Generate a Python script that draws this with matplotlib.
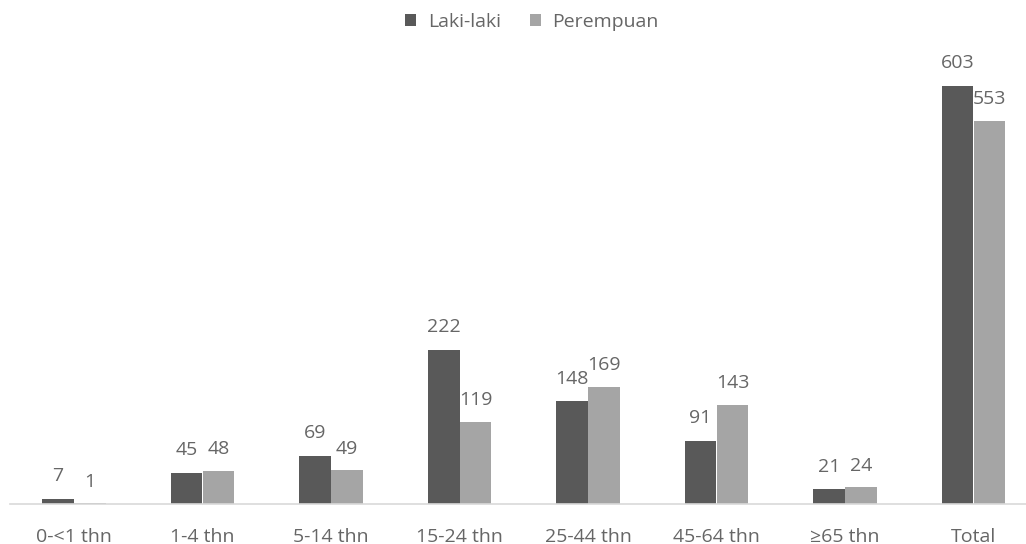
import matplotlib
matplotlib.use("Agg")
import matplotlib.pyplot as plt
import numpy as np

categories = ["0-<1 thn", "1-4 thn", "5-14 thn", "15-24 thn", "25-44 thn", "45-64 thn", "≥65 thn", "Total"]
laki = [7, 45, 69, 222, 148, 91, 21, 603]
perempuan = [1, 48, 49, 119, 169, 143, 24, 553]

plt.rcParams['font.family'] = ['Open Sans', 'DejaVu Sans']

fig = plt.figure(figsize=(10.26, 5.44), dpi=100)
ax = fig.add_axes([9.75/1026, 40/544, 1028/1026, 485/544])

x = np.arange(len(categories))
w = 0.249
c_dark = "#595959"
c_light = "#a5a5a5"
txt = "#666666"
fs = 14
b1 = ax.bar(x - w/2, laki, w, color=c_dark, label="Laki-laki")
b2 = ax.bar(x + w/2, perempuan, w, color=c_light, label="Perempuan")

for xi, v in zip(x - w/2, laki):
    ax.annotate(str(v), (xi, v), xytext=(0, 10), textcoords="offset points",
                ha="center", va="bottom", fontsize=fs, color=txt)
for xi, v in zip(x + w/2, perempuan):
    ax.annotate(str(v), (xi, v), xytext=(0, 9), textcoords="offset points",
                ha="center", va="bottom", fontsize=fs, color=txt)

ax.set_xlim(-0.5, 7.5)
ax.set_ylim(0, 700)
ax.set_xticks(x)
ax.set_xticklabels(categories, fontsize=fs, color=txt)
ax.tick_params(axis='x', length=0, pad=17)
ax.set_yticks([])
for s in ["top", "right", "left"]:
    ax.spines[s].set_visible(False)
ax.spines["bottom"].set_color("#d9d9d9")
ax.spines["bottom"].set_linewidth(1.2)

fig.legend(handles=[b1, b2], loc="center", bbox_to_anchor=(532/1026, 1 - 22/544), ncol=2,
           frameon=False, fontsize=fs, labelcolor=txt, handlelength=0.55,
           handleheight=0.55, handletextpad=0.6, columnspacing=1.5)

fig.savefig("out.png", dpi=100)
